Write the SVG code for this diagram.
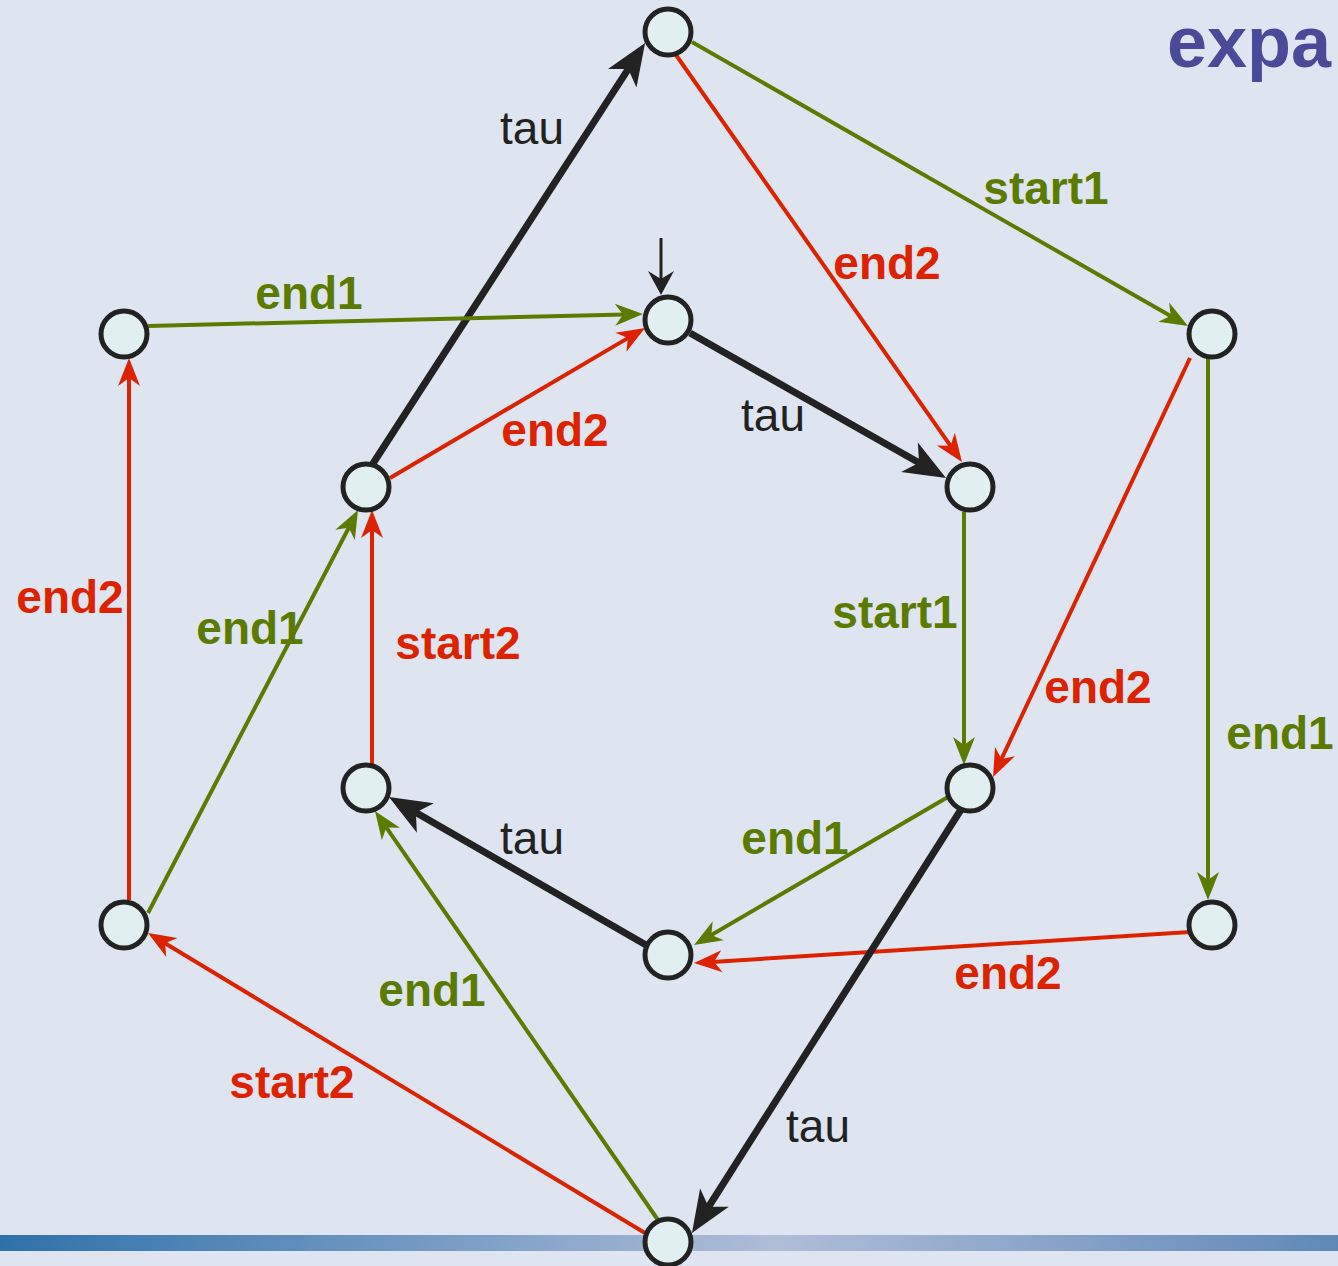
<svg xmlns="http://www.w3.org/2000/svg" width="1338" height="1266" viewBox="0 0 1338 1266">
<defs>
<linearGradient id="bar" x1="0" y1="0" x2="1338" y2="0" gradientUnits="userSpaceOnUse">
<stop offset="0" stop-color="#2f71aa"/>
<stop offset="0.58" stop-color="#afbdd8"/>
<stop offset="1" stop-color="#6089b8"/>
</linearGradient>
<marker id="ag" markerUnits="userSpaceOnUse" orient="auto" markerWidth="30" markerHeight="24" refX="10" refY="0" viewBox="0 -12 30 24" overflow="visible"><path d="M28,0 L0,-11 L8,0 L0,11 Z" fill="#5b7b00"/></marker>
<marker id="ar" markerUnits="userSpaceOnUse" orient="auto" markerWidth="30" markerHeight="24" refX="10" refY="0" viewBox="0 -12 30 24" overflow="visible"><path d="M28,0 L0,-11 L8,0 L0,11 Z" fill="#dd2200"/></marker>
<marker id="ab" markerUnits="userSpaceOnUse" orient="auto" markerWidth="44" markerHeight="36" refX="13" refY="0" viewBox="0 -18 44 36" overflow="visible"><path d="M42,0 L0,-17 L11,0 L0,17 Z" fill="#222222"/></marker>
<marker id="ai" markerUnits="userSpaceOnUse" orient="auto" markerWidth="26" markerHeight="28" refX="10" refY="0" viewBox="0 -14 26 28" overflow="visible"><path d="M24,0 L0,-13 L8,0 L0,13 Z" fill="#222222"/></marker>
</defs>
<style>
.g{stroke:#5b7b00;stroke-width:4;fill:none;marker-end:url(#ag)}
.r{stroke:#dd2200;stroke-width:4;fill:none;marker-end:url(#ar)}
.b{stroke:#222222;stroke-width:7;fill:none;marker-end:url(#ab)}
.i{stroke:#222222;stroke-width:3;fill:none;marker-end:url(#ai)}
.n{fill:#e1eff1;stroke:#222222;stroke-width:5}
text{font-family:"Liberation Sans",Arial,sans-serif;font-size:46px;text-anchor:middle}
.tg{fill:#5b7b00;font-weight:bold}
.tr{fill:#dd2200;font-weight:bold}
.tb{fill:#222222}
</style>
<rect width="1338" height="1266" fill="#dfe5f0"/>
<rect x="0" y="1235" width="1338" height="16" fill="url(#bar)"/>
<g id="connectors">
<path class="b" d="M372,465 L629.3,67.4"/>
<path class="g" d="M692,42 L1172.4,317.1"/>
<path class="r" d="M676,55 L951.6,447.3"/>
<path class="g" d="M148,326 L625,314.4"/>
<path class="r" d="M390,478 L629.5,337.1"/>
<path class="i" d="M661,238 L661,281"/>
<path class="b" d="M690,333 L920.8,463.7"/>
<path class="g" d="M964,512 L964,747"/>
<path class="r" d="M1190,358 L1000.7,760.7"/>
<path class="g" d="M1208,358 L1208,882"/>
<path class="r" d="M1190,932 L712,961.9"/>
<path class="g" d="M948,797 L709.6,935.9"/>
<path class="b" d="M962,808 L707.5,1208.5"/>
<path class="b" d="M646,945 L414.1,811.5"/>
<path class="g" d="M658,1220 L385.2,825.8"/>
<path class="r" d="M645,1233 L163.4,942.3"/>
<path class="r" d="M129,900 L129,376"/>
<path class="g" d="M148,913 L349.7,526"/>
<path class="r" d="M372,765 L372,528"/>
<text class="tb" x="532" y="144">tau</text>
<text class="tg" x="1046" y="204">start1</text>
<text class="tr" x="887" y="279">end2</text>
<text class="tg" x="309" y="309">end1</text>
<text class="tr" x="555" y="446">end2</text>
<text class="tb" x="773" y="431">tau</text>
<text class="tr" x="70" y="613">end2</text>
<text class="tg" x="250" y="644">end1</text>
<text class="tr" x="458" y="659">start2</text>
<text class="tg" x="895" y="628">start1</text>
<text class="tr" x="1098" y="703">end2</text>
<text class="tg" x="1280" y="749">end1</text>
<text class="tb" x="532" y="854">tau</text>
<text class="tg" x="795" y="854">end1</text>
<text class="tg" x="432" y="1006">end1</text>
<text class="tr" x="1008" y="989">end2</text>
<text class="tr" x="292" y="1098">start2</text>
<text class="tb" x="818" y="1142">tau</text>
</g>
<g id="n_top"><circle class="n" cx="668" cy="32" r="23"/></g>
<g id="n_center"><circle class="n" cx="668" cy="320" r="23"/></g>
<g id="n_left_out"><circle class="n" cx="124" cy="334" r="23"/></g>
<g id="n_right_out"><circle class="n" cx="1212" cy="334" r="23"/></g>
<g id="n_inner_ul"><circle class="n" cx="366" cy="487" r="23"/></g>
<g id="n_inner_ur"><circle class="n" cx="970" cy="487" r="23"/></g>
<g id="n_inner_ll"><circle class="n" cx="366" cy="788" r="23"/></g>
<g id="n_inner_lr"><circle class="n" cx="970" cy="788" r="23"/></g>
<g id="n_inner_bottom"><circle class="n" cx="668" cy="955" r="23"/></g>
<g id="n_left_bottom"><circle class="n" cx="124" cy="925" r="23"/></g>
<g id="n_right_bottom"><circle class="n" cx="1212" cy="925" r="23"/></g>
<g id="n_bottom"><circle class="n" cx="668" cy="1242" r="23"/></g>
<text x="1167" y="67" style="font-size:72px;font-weight:bold;fill:#4a4a99;text-anchor:start">expa</text>
</svg>
